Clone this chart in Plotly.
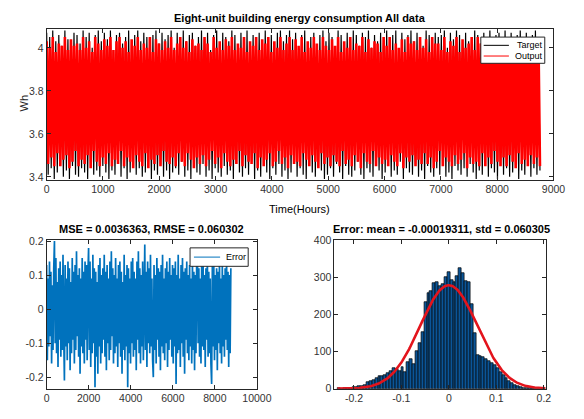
import numpy as np
import plotly.graph_objects as go

# ---------------- data ----------------
title_main = "Eight-unit building energy consumption All data"
title_err = "MSE = 0.0036363, RMSE = 0.060302"
title_hist = "Error: mean = -0.00019311, std = 0.060305"

total_hours = 8760

# hourly energy, target (Wh)
target_wh = [
    4.07, 3.41, 4.05, 3.44, 4.08, 3.39, 4.03, 3.42, 4.06, 3.46, 4.01, 3.40, 4.08, 3.43, 4.04, 3.39, 3.98, 3.45, 4.07, 3.41,
    4.06, 3.40, 4.02, 3.44, 4.08, 3.42, 4.05, 3.39, 4.07, 3.47, 4.00, 3.41, 4.06, 3.43, 4.08, 3.40, 4.03, 3.45, 4.07, 3.42,
    4.04, 3.39, 4.08, 3.43, 3.99, 3.41, 4.06, 3.46, 4.07, 3.40, 4.02, 3.44, 4.05, 3.39, 4.08, 3.42, 4.01, 3.47, 4.06, 3.41,
    4.08, 3.44, 4.03, 3.40, 4.07, 3.42, 4.05, 3.45, 3.97, 3.39, 4.06, 3.43, 4.08, 3.41, 4.02, 3.46, 4.07, 3.40, 4.04, 3.43,
    4.06, 3.39, 4.08, 3.42, 4.00, 3.44, 4.07, 3.41, 4.05, 3.47, 4.08, 3.40, 4.03, 3.43, 4.06, 3.39, 4.07, 3.45, 4.01, 3.42,
    4.05, 3.41, 4.08, 3.46, 4.04, 3.40, 4.07, 3.43, 3.99, 3.39, 4.06, 3.44, 4.08, 3.42, 4.02, 3.40, 4.07, 3.45, 4.05, 3.41,
    4.03, 3.43, 4.08, 3.39, 4.06, 3.46, 4.01, 3.42, 4.07, 3.40, 4.05, 3.44, 4.08, 3.41, 3.98, 3.47, 4.06, 3.39, 4.04, 3.43,
    4.07, 3.40, 4.02, 3.45, 4.08, 3.42, 4.05, 3.39, 4.06, 3.44, 4.00, 3.41, 4.07, 3.46, 4.08, 3.40, 4.03, 3.43, 4.06, 3.39,
    4.08, 3.42, 4.04, 3.47, 4.07, 3.40, 3.99, 3.44, 4.06, 3.41, 4.08, 3.39, 4.02, 3.45, 4.05, 3.42, 4.07, 3.40, 4.01, 3.46,
    4.06, 3.43, 4.08, 3.39, 4.03, 3.41, 4.07, 3.44, 4.05, 3.40, 3.97, 3.46, 4.08, 3.42, 4.06, 3.39, 4.02, 3.45, 4.07, 3.41,
    4.04, 3.40, 4.08, 3.43, 4.06, 3.47, 4.01, 3.41, 4.07, 3.39, 4.05, 3.44, 4.08, 3.42, 4.00, 3.40, 4.06, 3.46, 4.03, 3.43,
    4.07, 3.39, 4.05, 3.42, 4.08, 3.45, 4.02, 3.40, 4.06, 3.43, 4.08, 3.41, 3.99, 3.47, 4.07, 3.39, 4.04, 3.44, 4.06, 3.42,
    4.08, 3.41, 4.03, 3.46, 4.07, 3.40, 4.05, 3.43, 4.01, 3.39, 4.08, 3.45, 4.06, 3.42, 4.02, 3.40, 4.07, 3.44, 4.05, 3.41,
    4.06, 3.47, 4.08, 3.40, 4.00, 3.42, 4.07, 3.39, 4.04, 3.45, 4.08, 3.43, 4.06, 3.41, 3.98, 3.44, 4.07, 3.40, 4.03, 3.46,
    4.05, 3.42, 4.08, 3.39, 4.06, 3.43, 4.02, 3.41, 4.07, 3.46, 4.05, 3.40, 4.08, 3.44, 4.01, 3.42, 4.06, 3.39, 4.07, 3.45,
    4.03, 3.41, 4.08, 3.44, 4.05, 3.40, 4.07, 3.42, 3.99, 3.47, 4.06, 3.39, 4.08, 3.43, 4.04, 3.41, 4.07, 3.45, 4.02, 3.40,
    4.06, 3.44, 4.08, 3.41, 4.05, 3.43,
]

# hourly energy, network output (Wh)
output_wh = [
    4.03, 3.46, 4.00, 3.49, 4.05, 3.45, 3.98, 3.51, 4.02, 3.45, 4.01, 3.48, 4.05, 3.50, 3.99, 3.44, 4.04, 3.47, 4.01, 3.52,
    4.02, 3.45, 3.99, 3.48, 4.05, 3.46, 4.00, 3.50, 4.03, 3.44, 3.98, 3.52, 4.05, 3.47, 4.02, 3.45, 3.99, 3.49, 4.04, 3.46,
    4.01, 3.51, 4.05, 3.45, 3.99, 3.48, 4.03, 3.46, 4.05, 3.52, 4.00, 3.45, 4.03, 3.49, 3.98, 3.47, 4.04, 3.44, 4.01, 3.50,
    4.05, 3.47, 3.99, 3.45, 4.02, 3.51, 4.00, 3.44, 4.05, 3.48, 3.98, 3.46, 4.04, 3.50, 4.02, 3.45, 3.99, 3.52, 4.03, 3.47,
    4.00, 3.46, 4.05, 3.49, 3.99, 3.45, 4.02, 3.51, 4.05, 3.47, 4.00, 3.45, 4.03, 3.51, 3.98, 3.48, 4.04, 3.44, 4.01, 3.49,
    4.02, 3.46, 3.99, 3.50, 4.05, 3.45, 4.02, 3.48, 3.98, 3.52, 4.05, 3.46, 4.00, 3.49, 4.03, 3.44, 3.99, 3.51, 4.04, 3.47,
    4.01, 3.45, 4.05, 3.48, 3.99, 3.46, 4.02, 3.52, 4.00, 3.45, 4.05, 3.50, 3.98, 3.47, 4.03, 3.46, 4.01, 3.51, 4.05, 3.44,
    3.99, 3.49, 4.04, 3.45, 4.02, 3.48, 4.05, 3.51, 3.98, 3.45, 4.03, 3.47, 4.00, 3.52, 4.05, 3.46, 3.99, 3.49, 4.02, 3.44,
    4.05, 3.50, 3.99, 3.46, 4.04, 3.47, 4.01, 3.45, 4.05, 3.51, 3.98, 3.48, 4.03, 3.45, 4.00, 3.50, 4.05, 3.47, 4.02, 3.44,
    3.99, 3.51, 4.05, 3.46, 4.01, 3.49, 3.99, 3.45, 4.04, 3.50, 4.01, 3.47, 4.05, 3.45, 3.98, 3.52, 4.03, 3.46, 4.00, 3.48,
    4.05, 3.45, 3.99, 3.50, 4.02, 3.47, 4.01, 3.44, 4.05, 3.51, 3.98, 3.47, 4.04, 3.46, 4.00, 3.52, 4.03, 3.45, 4.02, 3.49,
    3.98, 3.46, 4.05, 3.48, 4.01, 3.45, 4.05, 3.50, 3.99, 3.47, 4.02, 3.45, 4.00, 3.51, 4.04, 3.44, 3.98, 3.49, 4.05, 3.47,
    4.02, 3.50, 4.03, 3.45, 3.99, 3.48, 4.05, 3.46, 4.00, 3.51, 4.04, 3.46, 3.98, 3.49, 4.05, 3.44, 4.02, 3.47, 4.02, 3.52,
    3.99, 3.45, 4.05, 3.49, 3.98, 3.47, 4.03, 3.45, 4.01, 3.50, 4.05, 3.46, 3.98, 3.48, 4.04, 3.51, 4.00, 3.44, 4.02, 3.49,
    4.05, 3.46, 3.99, 3.47, 4.05, 3.45, 4.02, 3.51, 3.98, 3.45, 4.04, 3.49, 4.00, 3.46, 4.02, 3.52, 3.98, 3.47, 4.05, 3.45,
    4.01, 3.49, 4.03, 3.45, 3.99, 3.50, 4.05, 3.47, 4.02, 3.44, 3.99, 3.51, 4.04, 3.46, 4.00, 3.48, 4.05, 3.45, 3.98, 3.50,
    4.03, 3.46, 4.00, 3.49, 4.04, 3.45,
]

# prediction error over the year (Wh)
error_wh = [
    0.13, -0.15, 0.09, -0.11, 0.14, -0.08, 0.11, -0.16, 0.07, -0.12, 0.12, 0.20, -0.10, 0.15, -0.13, 0.08, -0.17, 0.12, -0.09, 0.14,
    -0.14, 0.10, -0.12, 0.16, -0.07, -0.21, 0.13, -0.11, 0.09, -0.15, 0.14, -0.10, 0.12, -0.18, 0.08, -0.13, 0.15, -0.09, 0.11, -0.16,
    0.13, -0.12, 0.17, -0.08, 0.10, -0.14, 0.12, -0.19, 0.09, -0.11, 0.15, -0.13, 0.11, -0.16, 0.14, -0.09, 0.13, -0.15, 0.10, 0.18,
    -0.12, 0.14, -0.17, 0.09, -0.13, 0.16, -0.10, 0.12, -0.23, 0.11, -0.14, 0.08, -0.19, 0.13, -0.11, 0.15, -0.16, 0.10, -0.13, 0.12,
    -0.09, 0.16, -0.14, 0.11, -0.18, 0.13, -0.10, 0.09, -0.15, 0.14, -0.12, 0.17, -0.08, 0.12, -0.16, 0.10, -0.13, 0.15, -0.11, 0.09,
    -0.17, 0.13, -0.10, 0.14, -0.14, 0.11, -0.19, 0.08, -0.12, 0.16, -0.15, 0.10, -0.11, 0.13, -0.23, 0.12, -0.13, 0.09, -0.16, 0.14,
    -0.10, 0.15, -0.14, 0.11, -0.12, 0.09, -0.18, 0.14, -0.09, 0.17, -0.13, 0.12, -0.16, 0.10, -0.11, 0.14, -0.15, 0.13, 0.19, -0.12,
    0.11, -0.17, 0.14, -0.10, 0.12, -0.13, 0.16, -0.11, 0.09, -0.15, -0.20, 0.13, -0.12, 0.10, -0.16, 0.15, -0.09, 0.12, -0.14, 0.11,
    -0.18, 0.13, -0.11, 0.16, -0.13, 0.09, -0.15, 0.12, -0.10, 0.14, -0.17, 0.11, -0.12, 0.15, -0.09, 0.10, -0.14, 0.13, -0.16, 0.12,
    -0.11, 0.14, -0.22, 0.10, -0.13, 0.16, -0.12, 0.09, -0.17, 0.13, -0.10, 0.15, -0.14, 0.11, -0.19, 0.12, -0.09, 0.14, -0.13, 0.10,
    -0.15, 0.13, -0.11, 0.09, -0.16, 0.14, -0.12, 0.11, -0.18, 0.10, -0.13, 0.15, 0.17, -0.10, 0.12, -0.14, 0.09, -0.16, 0.13, -0.11,
    0.14, -0.12, 0.10, -0.17, 0.12, -0.09, 0.15, -0.14, 0.11, -0.13, 0.09, -0.16, -0.22, 0.13, -0.11, 0.14, -0.15, 0.10, -0.12, 0.12,
    -0.18, 0.11, -0.10, 0.14, -0.13, 0.09, -0.16, 0.13, -0.11, 0.10, -0.14, 0.12, -0.09, 0.15, -0.12, 0.11, -0.17, 0.10, -0.13, 0.12,
]

# error histogram: counts per bin, first bin edge and bin width
hist_counts = [
    1, 0, 2, 3, 3, 4, 5, 6, 8, 10, 19, 21, 23, 28, 33, 35, 38, 42, 47, 55,
    52, 47, 58, 45, 72, 80, 67, 100, 124, 152, 232, 258, 264, 285, 288, 276, 282, 300, 313, 292,
    286, 302, 324, 312, 290, 286, 228, 150, 90, 87, 84, 80, 74, 70, 64, 56, 46, 38, 28, 20,
    14, 10, 6, 4, 3, 2, 1, 1, 0, 0, 0, 1,
]
hist_start = -0.2345
hist_width = 0.00608
err_mean = -0.00019311
err_std = 0.060305

# ---------------- styling helpers ----------------
FONT = "Liberation Sans, Arial, Helvetica, sans-serif"
AX_COL = "#262626"
W, H = 584, 419


def px_x(p):
    return p / W


def px_y(p):
    return 1 - p / H


def axis(**kw):
    base = dict(
        showline=True, linecolor=AX_COL, linewidth=1, mirror="ticks",
        ticks="inside", ticklen=4, tickwidth=1, tickcolor=AX_COL,
        showgrid=False, zeroline=False,
        tickfont=dict(family=FONT, size=10.5, color="#333333"),
    )
    base.update(kw)
    return base


fig = go.Figure()

# top panel: target and output series
hours_top = np.linspace(1, total_hours, len(target_wh))
fig.add_trace(go.Scatter(
    x=hours_top, y=target_wh, mode="lines", name="Target", showlegend=False,
    line=dict(color="black", width=1.2), xaxis="x", yaxis="y",
))
fig.add_trace(go.Scatter(
    x=hours_top, y=output_wh, mode="lines", name="Output", showlegend=False,
    line=dict(color="#ff0000", width=2.6), xaxis="x", yaxis="y",
))

# bottom-left: error series
hours_err = np.linspace(1, total_hours, len(error_wh))
fig.add_trace(go.Scatter(
    x=hours_err, y=error_wh, mode="lines", name="Error", showlegend=False,
    line=dict(color="#0072BD", width=1.7), xaxis="x2", yaxis="y2",
))

# bottom-right: histogram of errors with normal fit
counts = np.array(hist_counts, dtype=float)
centers = hist_start + (np.arange(len(counts)) + 0.5) * hist_width
fig.add_trace(go.Bar(
    x=centers, y=counts, width=hist_width, showlegend=False,
    marker=dict(color="#0a5599", line=dict(color="black", width=0.7)),
    xaxis="x3", yaxis="y3",
))
fit_x = np.linspace(hist_start, hist_start + len(counts) * hist_width, 300)
fit_y = counts.sum() * hist_width * np.exp(-0.5 * ((fit_x - err_mean) / err_std) ** 2) / (err_std * np.sqrt(2 * np.pi))
fig.add_trace(go.Scatter(
    x=fit_x, y=fit_y, mode="lines", showlegend=False,
    line=dict(color="#e3141c", width=2.6), xaxis="x3", yaxis="y3",
))

fig.update_layout(
    width=W, height=H,
    margin=dict(l=0, r=0, t=0, b=0),
    paper_bgcolor="white", plot_bgcolor="white",
    bargap=0, showlegend=False,
    xaxis=axis(domain=[px_x(45), px_x(568)], range=[0, 9000],
               tickvals=list(range(0, 9001, 1000)), anchor="y"),
    yaxis=axis(domain=[px_y(179), px_y(24)], range=[3.386, 4.086],
               tickvals=[3.4, 3.6, 3.8, 4.0], ticktext=["3.4", "3.6", "3.8", "4"], anchor="x"),
    xaxis2=axis(domain=[px_x(45), px_x(262)], range=[0, 10000],
                tickvals=list(range(0, 10001, 2000)),
                ticktext=[str(v) for v in range(0, 10001, 2000)], anchor="y2"),
    yaxis2=axis(domain=[px_y(394), px_y(241)], range=[-0.234, 0.203],
                tickvals=[-0.2, -0.1, 0, 0.1, 0.2], ticktext=["-0.2", "-0.1", "0", "0.1", "0.2"], anchor="x2"),
    xaxis3=axis(domain=[px_x(342), px_x(560)], range=[-0.241, 0.204],
                tickvals=[-0.2, -0.1, 0, 0.1, 0.2], ticktext=["-0.2", "-0.1", "0", "0.1", "0.2"], anchor="y3"),
    yaxis3=axis(domain=[px_y(394), px_y(241)], range=[0, 400],
                tickvals=[0, 100, 200, 300, 400], anchor="x3"),
)

# legend boxes (box, line samples, labels) in pixel positions
legends = [
    dict(box=(493, 32, 559, 59), entries=[("Target", "black", 40.5), ("Output", "#ff0000", 51.5)],
         line_x=(496, 522), text_x=558),
    dict(box=(193, 249, 253, 268), entries=[("Error", "#0072BD", 258.5)],
         line_x=(197, 224), text_x=252),
]
for lg in legends:
    x0, y0, x1, y1 = lg["box"]
    fig.add_shape(type="rect", xref="paper", yref="paper",
                  x0=px_x(x0), x1=px_x(x1), y0=px_y(y1), y1=px_y(y0),
                  line=dict(color=AX_COL, width=1), fillcolor="white", layer="above")
    for label, col, yy in lg["entries"]:
        fig.add_shape(type="line", xref="paper", yref="paper",
                      x0=px_x(lg["line_x"][0]), x1=px_x(lg["line_x"][1]),
                      y0=px_y(yy), y1=px_y(yy), line=dict(color=col, width=1), layer="above")
        fig.add_annotation(text=label, x=px_x(lg["text_x"]), y=px_y(yy), xref="paper", yref="paper",
                           xanchor="right", yanchor="middle", showarrow=False, borderpad=0,
                           font=dict(family=FONT, size=9, color="black"))

annots = [
    dict(text=f"<b>{title_main}</b>", x=px_x(306), y=px_y(12), size=11),
    dict(text=f"<b>{title_err}</b>", x=px_x(153), y=px_y(230), size=11),
    dict(text=f"<b>{title_hist}</b>", x=px_x(452), y=px_y(230), size=11),
    dict(text="Time(Hours)", x=px_x(306), y=px_y(209), size=11),
]
for a in annots:
    fig.add_annotation(
        text=a["text"], x=a["x"], y=a["y"], xref="paper", yref="paper",
        xanchor="center", yanchor="middle", showarrow=False,
        font=dict(family=FONT, size=a["size"], color="black"),
    )
fig.add_annotation(
    text="Wh", x=px_x(22), y=px_y(100), xref="paper", yref="paper",
    xanchor="center", yanchor="middle", showarrow=False, textangle=-90,
    font=dict(family=FONT, size=11, color="#262626"),
)

fig.write_html("out.html")
